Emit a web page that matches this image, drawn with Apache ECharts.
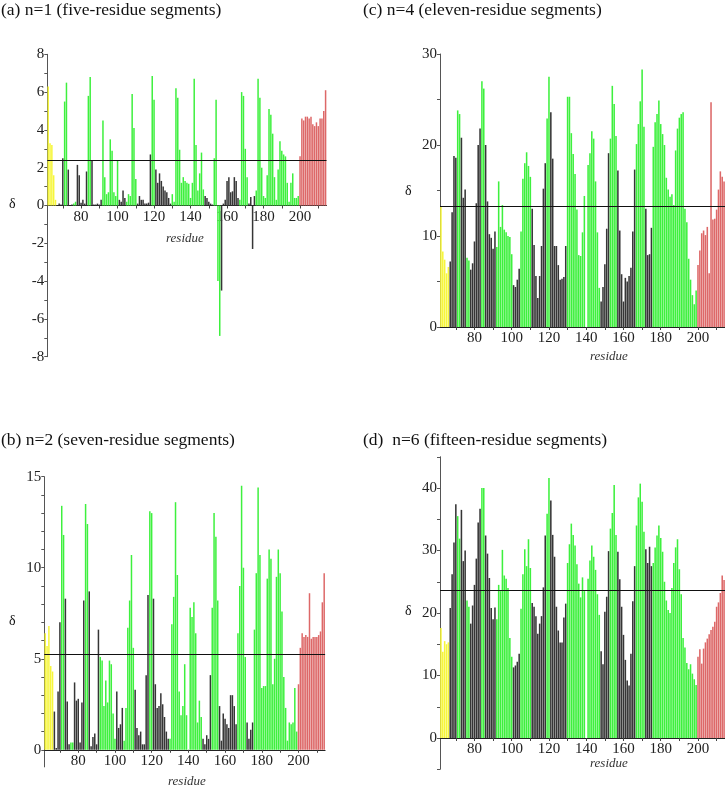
<!DOCTYPE html>
<html><head><meta charset="utf-8">
<script src="https://cdn.jsdelivr.net/npm/echarts@6.0.0/dist/echarts.min.js"></script>
<style>html,body{margin:0;padding:0;background:#fff}#c{width:725px;height:789px}</style>
</head><body><div id="c"></div><script>
// residues 62..214
const RES_FIRST = 62;
const RES_LAST = 214;
// residue classes: Y yellow, K black, G green, R red
const residueClass = ("YYYYY" + "KKKK" + "GG" + "KKK" + "GG" + "KKKKKK" + "GG" + "KKKKKK" +
  "GGGGGGGGG" + "KKKK" + "GGGGGG" + "KKKKKKKK" + "GG" + "KKKKKKKKK" + "GGGGGGGGGGGGGGGGGG" +
  "KKKKK" + "GGGG" + "KKKKKKKKKK" + "GGGGG" + "KKKK" + "GGGGGGGGGGGGGGGGGGGGGGGG" +
  "RRRRRRRRRRRRRRR").split('');

const deltaN1 = [
 6.3,3.3,3.2,1.6,0.3,0.0,0.1,0.05,2.5,5.5,
 6.5,1.9,0.0,0.05,0.1,0.2,2.15,1.6,0.15,0.3,
 0.1,1.8,5.8,6.8,2.4,0.05,0.05,0.1,0.05,0.3,
 4.5,1.5,0.6,0.7,3.5,2.9,0.7,0.5,2.4,0.3,
 0.2,0.8,0.4,0.2,0.6,0.5,5.9,4.1,1.4,0.1,
 0.5,0.3,0.3,0.1,0.1,0.15,2.7,6.85,5.6,1.9,
 1.2,1.7,1.3,1.0,0.8,0.7,0.4,0.1,0.6,0.2,
 6.2,5.7,2.95,1.2,1.5,1.3,1.2,1.15,0.4,1.2,
 6.7,3.2,0.8,1.7,2.8,0.85,0.5,0.4,0.2,0.1,
 0.05,2.5,5.6,-4.0,-6.9,-4.5,0.1,0.3,1.3,1.5,
 0.7,0.75,1.5,1.3,0.4,0.3,6.0,5.8,3.0,1.5,
 0.1,0.45,-2.3,0.5,0.8,6.7,5.7,2.0,0.5,0.4,
 1.6,5.1,4.8,3.8,1.5,0.3,1.9,3.4,2.9,2.7,
 2.6,1.2,0.2,1.2,1.7,0.4,0.4,0.5,2.6,4.6,
 4.5,4.7,4.7,4.6,4.7,4.3,4.2,4.4,4.2,4.6,
 4.6,5.0,6.1];

const deltaN2 = [
 6.4,5.7,6.8,4.6,4.3,2.1,0.1,3.2,7.0,13.4,
 11.8,8.3,2.65,0.3,0.4,0.4,3.7,2.7,2.8,0.4,
 2.6,8.2,13.5,12.4,8.7,0.2,0.7,0.9,0.3,6.6,
 5.1,4.9,2.4,3.8,2.6,4.9,4.7,2.0,0.6,3.2,
 1.2,1.4,2.3,0.5,2.3,6.7,8.2,10.7,5.6,3.3,
 1.2,0.8,1.0,0.3,0.3,4.1,8.5,13.1,13.0,8.3,
 3.6,2.3,2.4,3.1,2.5,1.8,1.0,0.6,0.6,6.9,
 8.4,13.6,9.6,3.2,1.9,2.4,4.7,1.9,null,7.8,
 7.3,8.1,6.4,1.5,2.7,1.8,0.6,0.3,0.8,0.6,
 4.1,7.8,13.0,11.7,8.2,2.4,0.5,2.0,1.7,1.4,
 1.2,3.0,3.0,2.4,1.4,6.4,9.0,14.5,10.0,5.1,
 1.5,0.6,1.1,1.5,6.6,9.7,14.4,10.7,3.4,3.5,
 3.5,9.4,11.0,10.5,3.6,5.0,9.5,11.0,9.7,7.6,
 4.0,2.3,0.5,1.5,1.4,1.5,3.4,1.0,3.6,5.6,
 6.4,6.2,6.3,6.2,8.6,6.1,6.2,6.2,6.2,6.3,
 6.5,8.1,9.7];

const deltaN4 = [
 13.3,8.3,7.4,5.9,6.6,7.2,12.6,18.8,18.6,23.8,
 23.4,20.8,14.2,15.1,7.6,7.3,6.3,7.0,9.4,13.6,
 20.0,21.8,27.0,26.2,20.0,13.8,10.2,9.8,8.6,10.5,
 8.8,16.0,11.0,13.4,10.7,10.4,10.0,9.9,8.0,4.6,
 4.4,5.2,6.4,10.5,16.3,18.0,19.2,17.7,16.5,13.0,
 9.0,5.6,3.2,5.6,8.9,15.2,18.0,22.9,27.5,23.6,
 18.5,8.9,8.9,6.8,5.2,5.3,5.5,8.9,25.3,25.3,
 21.3,19.0,16.8,12.9,7.9,7.8,10.4,14.4,null,17.8,
 19.1,21.5,20.7,16.0,10.4,4.3,2.8,4.4,6.9,10.8,
 19.1,20.7,26.5,24.5,21.0,17.2,10.6,5.8,2.8,5.4,
 5.0,5.6,6.5,10.5,17.3,20.1,22.3,24.8,28.3,22.0,
 13.0,7.9,8.0,10.9,19.8,22.5,23.4,24.9,22.3,21.2,
 20.0,16.4,15.1,14.3,14.6,13.4,19.4,21.8,23.0,23.4,
 23.6,13.0,11.5,7.5,5.2,3.5,2.5,4.0,6.8,8.4,
 10.3,10.6,10.1,11.0,5.9,24.7,11.8,11.9,12.9,15.1,
 17.1,16.5,16.0];

const deltaN6 = [
 17.6,13.8,15.5,15.0,15.3,20.8,26.2,31.3,37.4,35.5,
 31.9,36.5,28.3,30.0,22.0,21.0,18.3,21.2,24.5,28.7,
 34.5,36.7,40.0,40.0,32.4,29.5,25.6,20.8,19.0,20.9,
 19.0,24.5,23.5,30.1,26.0,25.5,24.0,16.0,13.0,11.3,
 11.6,12.2,13.5,20.7,26.2,30.2,27.5,31.8,27.2,21.6,
 21.0,19.5,16.7,18.3,19.5,24.1,32.4,35.9,41.6,38.0,
 32.5,29.0,21.0,17.2,15.3,15.3,19.3,21.5,28.0,31.0,
 34.3,32.5,30.8,27.8,24.7,22.5,25.7,23.5,null,25.5,
 28.4,30.8,29.0,26.9,23.0,19.7,13.9,11.8,20.2,22.6,
 29.9,33.5,36.0,40.5,32.5,29.8,25.4,21.0,16.5,12.5,
 9.2,8.4,13.5,21.9,27.5,34.0,38.5,40.7,37.8,33.0,
 30.2,28.0,30.6,27.5,28.0,30.5,32.4,34.0,32.0,29.8,
 25.0,22.0,20.5,20.0,24.0,28.0,30.5,31.8,27.0,23.0,
 16.0,14.5,12.0,11.0,11.8,10.3,9.4,8.5,13.0,14.2,
 11.9,14.3,15.3,15.9,16.6,17.3,17.8,18.6,21.0,21.7,
 23.2,26.0,25.3];

// threshold (mean) lines
const thresholds = {a: 2.4, b: 5.25, c: 13.3, d: 23.6};
// tick labels
const xTickLabels = [80, 100, 120, 140, 160, 180, 200];
const xTickMarks = [70, 80, 90, 100, 110, 120, 130, 140, 150, 160, 170, 180, 190, 200, 210];
const yLabelsA = [-8, -6, -4, -2, 0, 2, 4, 6, 8];
const yTicksA = [-8,-7,-6,-5,-4,-3,-2,-1,0,1,2,3,4,5,6,7,8];
const yLabelsB = [0, 5, 10, 15];
const yTicksB = [0,1,2,3,4,5,6,7,8,9,10,11,12,13,14,15];
const yLabelsC = [0, 10, 20, 30];
const yTicksC = [0, 5, 10, 15, 20, 25, 30];
const yLabelsD = [0, 10, 20, 30, 40];
const yTicksD = [-5, 0, 5, 10, 15, 20, 25, 30, 35, 40, 45];

const titles = {
  a: '(a) n=1 (five-residue segments)',
  b: '(b) n=2 (seven-residue segments)',
  c: '(c) n=4 (eleven-residue segments)',
  d: '(d)  n=6 (fifteen-residue segments)'
};

const colorMap = {Y: '#f6f63a', K: '#363636', G: '#3ef03e', R: '#dd6868'};
const SERIF = '"Liberation Serif", "Times New Roman", serif';

function barData(vals) {
  const out = [];
  for (let i = 0; i < vals.length; i++) {
    const v = vals[i];
    if (v === null) continue;
    out.push({value: [RES_FIRST + i, v], itemStyle: {color: colorMap[residueClass[i]]}});
  }
  return out;
}

const panels = [
  {key: 'a', vals: deltaN1, grid: {left: 47.3, top: 54.3, width: 279.2, height: 302.4}, ymin: -8, ymax: 8, labels: yLabelsA, ticks: yTicksA, bw: 1.5},
  {key: 'c', vals: deltaN4, grid: {left: 440, top: 54, width: 289.2, height: 273}, ymin: 0, ymax: 30, labels: yLabelsC, ticks: yTicksC, bw: 1.55},
  {key: 'b', vals: deltaN2, grid: {left: 44.3, top: 476.7, width: 280.8, height: 290.2}, ymin: -0.94, ymax: 15, labels: yLabelsB, ticks: yTicksB, bw: 1.5},
  {key: 'd', vals: deltaN6, grid: {left: 440, top: 456.75, width: 289.2, height: 312.5}, ymin: -5, ymax: 45, labels: yLabelsD, ticks: yTicksD, bw: 1.55}
];

const grids = [], xAxes = [], yAxes = [], series = [];
panels.forEach((p, i) => {
  grids.push(Object.assign({containLabel: false}, p.grid));
  // place the x axis at y = 0 (offset upward from the grid bottom)
  const zeroOffset = -(0 - p.ymin) / (p.ymax - p.ymin) * p.grid.height;
  xAxes.push({
    gridIndex: i, type: 'value', min: RES_FIRST - 0.5, max: RES_LAST + 0.5,
    position: 'bottom', offset: zeroOffset,
    axisLine: {show: true, onZero: false, lineStyle: {color: '#222', width: 1}},
    axisTick: {show: true, customValues: xTickMarks, length: 3, lineStyle: {color: '#444'}},
    axisLabel: {customValues: xTickLabels, fontFamily: SERIF, fontSize: 15, color: '#222', margin: 4},
    splitLine: {show: false}
  });
  yAxes.push({
    gridIndex: i, type: 'value', min: p.ymin, max: p.ymax,
    axisLine: {show: true, onZero: false, lineStyle: {color: '#555', width: 1}},
    axisTick: {show: true, customValues: p.ticks, length: 3, lineStyle: {color: '#555'}},
    axisLabel: {customValues: p.labels, fontFamily: SERIF, fontSize: 15, color: '#222', margin: 3},
    splitLine: {show: false}
  });
  series.push({
    type: 'bar', xAxisIndex: i, yAxisIndex: i, data: barData(p.vals), barWidth: p.bw,
    animation: false, silent: true,
    markLine: {
      silent: true, symbol: ['none', 'none'], label: {show: false},
      lineStyle: {color: '#111', width: 1.2, type: 'solid'},
      data: [{yAxis: thresholds[p.key]}]
    }
  });
});

const txt = (left, top, text, style) => ({type: 'text', left, top, silent: true,
  style: Object.assign({text, fill: '#111', font: '17.5px ' + SERIF}, style || {})});

const graphic = [
  txt(1, 1, titles.a),
  txt(363, 1, titles.c),
  txt(1, 431, titles.b),
  txt(363, 431, titles.d),
  txt(9, 197, 'δ', {font: '14px ' + SERIF}),
  txt(405, 184, 'δ', {font: '14px ' + SERIF}),
  txt(9, 614, 'δ', {font: '14px ' + SERIF}),
  txt(405, 604, 'δ', {font: '14px ' + SERIF}),
  txt(166, 232, 'residue', {font: 'italic 13px ' + SERIF, fill: '#333'}),
  txt(590, 350, 'residue', {font: 'italic 13px ' + SERIF, fill: '#333'}),
  txt(168, 775, 'residue', {font: 'italic 13px ' + SERIF, fill: '#333'}),
  txt(590, 757, 'residue', {font: 'italic 13px ' + SERIF, fill: '#333'})
];

const chart = echarts.init(document.getElementById('c'), null, {renderer: 'canvas'});
chart.setOption({
  animation: false,
  backgroundColor: '#fff',
  grid: grids, xAxis: xAxes, yAxis: yAxes, series, graphic
});
</script></body></html>
